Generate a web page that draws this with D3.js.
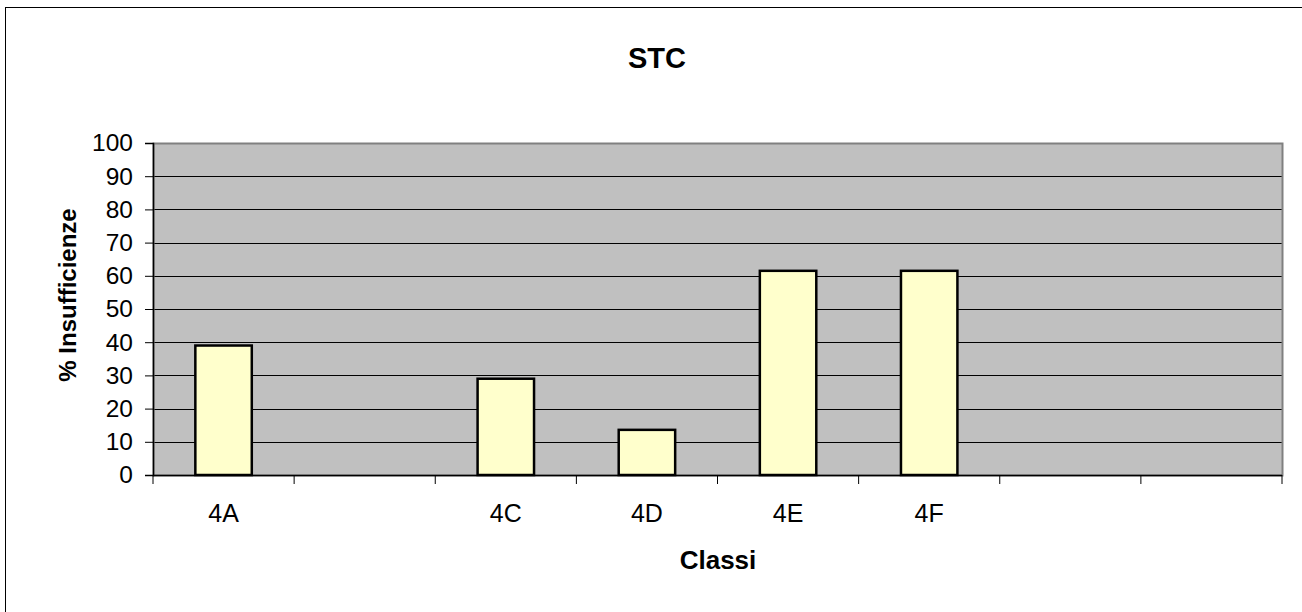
<!DOCTYPE html>
<html>
<head>
<meta charset="utf-8">
<script src="https://cdn.jsdelivr.net/npm/d3@7"></script>
<style>
  body { margin: 0; background: #fff; }
  text { font-family: "Liberation Sans", Arial, sans-serif; }
</style>
</head>
<body>
<div class="chart"></div>
<script>
const categories = ["4A", "4B", "4C", "4D", "4E", "4F", "4G", "4H"];
const tickLabels = ["4A", "", "4C", "4D", "4E", "4F", "", ""];
const values = [39, null, 29, 13.6, 61.5, 61.5, null, null];
const yTicks = [0, 10, 20, 30, 40, 50, 60, 70, 80, 90, 100];

const data = categories.map((c, i) => ({ cat: c, label: tickLabels[i], value: values[i] }));

const margin = { top: 143, left: 153, right: 20, bottom: 137 };
const W = 1302, H = 612;
const width = 1282 - margin.left;
const height = 475 - margin.top;

const root = d3.select(".chart")
  .append("svg")
  .attr("width", W)
  .attr("height", H);

// outer frame (continues past the right / bottom edge)
root.append("rect")
  .attr("x", 5.5).attr("y", 7.5)
  .attr("width", W + 10).attr("height", H + 10)
  .attr("fill", "#fff").attr("stroke", "#000").attr("stroke-width", 1);

const svg = root.append("g")
  .attr("transform", `translate(${margin.left}, ${margin.top})`);

const xScale = d3.scaleBand()
  .domain(categories)
  .range([0, width])
  .paddingInner(0.6)
  .paddingOuter(0.3);

const yScale = d3.scaleLinear().domain([0, 100]).range([height, 0]);

// plot background
svg.append("rect")
  .attr("width", width).attr("height", height)
  .attr("fill", "#c0c0c0");

// gridlines
svg.selectAll(".grid")
  .data(yTicks.filter(d => d > 0 && d < 100))
  .enter().append("line")
  .attr("class", "grid")
  .attr("x1", 0).attr("x2", width)
  .attr("y1", d => Math.round(yScale(d)) + 0.5)
  .attr("y2", d => Math.round(yScale(d)) + 0.5)
  .attr("stroke", "#000").attr("stroke-width", 1);

// plot border
svg.append("rect")
  .attr("x", 0.5).attr("y", 0.5)
  .attr("width", width).attr("height", height)
  .attr("fill", "none").attr("stroke", "#808080").attr("stroke-width", 2);

// bars
svg.selectAll(".bar")
  .data(data.filter(d => d.value != null))
  .enter().append("rect")
  .attr("class", "bar")
  .attr("x", d => xScale(d.cat))
  .attr("width", xScale.bandwidth())
  .attr("y", d => yScale(d.value))
  .attr("height", d => height - yScale(d.value))
  .attr("fill", "#ffffcc")
  .attr("stroke", "#000")
  .attr("stroke-width", 2.5);

// y axis
const yAxis = d3.axisLeft(yScale).tickValues(yTicks).tickSize(8).tickPadding(12);
const gy = svg.append("g").attr("class", "axis y-axis").call(yAxis);
gy.select(".domain").attr("stroke", "#000").attr("stroke-width", 1.5);
gy.selectAll(".tick line").attr("stroke", "#000");
gy.selectAll("text")
  .attr("font-size", "24.5px").attr("fill", "#000")
  .attr("font-family", "Liberation Sans, Arial, sans-serif");

// x axis: ticks at category boundaries
const step = xScale.step();
const bounds = d3.range(categories.length + 1).map(i => i * step);
const gx = svg.append("g").attr("transform", `translate(0, ${height})`);
gx.append("line")
  .attr("x1", 0).attr("x2", width)
  .attr("y1", 0.5).attr("y2", 0.5)
  .attr("stroke", "#000").attr("stroke-width", 1.5);
gx.selectAll(".xtick")
  .data(bounds)
  .enter().append("line")
  .attr("x1", d => d).attr("x2", d => d)
  .attr("y1", 0).attr("y2", 9)
  .attr("stroke", "#000").attr("stroke-width", 1);
gx.selectAll(".xlabel")
  .data(data)
  .enter().append("text")
  .attr("x", d => xScale(d.cat) + xScale.bandwidth() / 2)
  .attr("y", 47)
  .attr("text-anchor", "middle")
  .attr("font-size", "25px")
  .text(d => d.label);

// titles
root.append("text")
  .attr("x", 657).attr("y", 68)
  .attr("text-anchor", "middle")
  .attr("font-size", "29px").attr("font-weight", "bold")
  .text("STC");

root.append("text")
  .attr("x", 718).attr("y", 569)
  .attr("text-anchor", "middle")
  .attr("font-size", "26px").attr("font-weight", "bold")
  .text("Classi");

root.append("text")
  .attr("transform", "translate(76, 295) rotate(-90)")
  .attr("text-anchor", "middle")
  .attr("font-size", "24px").attr("font-weight", "bold")
  .text("% Insufficienze");
</script>
</body>
</html>
